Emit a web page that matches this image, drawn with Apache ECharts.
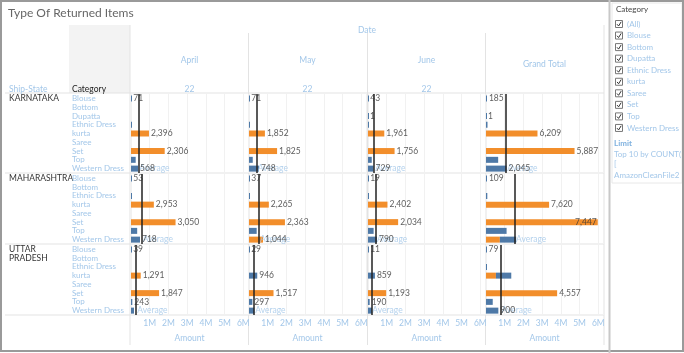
<!DOCTYPE html>
<html>
<head>
<meta charset="utf-8">
<script src="https://cdn.jsdelivr.net/npm/echarts@6/dist/echarts.min.js"></script>
<style>
  html, body { margin: 0; padding: 0; background: #fff; }
  #chart { width: 684px; height: 353px; }
</style>
</head>
<body>
<div id="chart"></div>
<script>
// columns of the table
var months = ["April", "May", "June", "Grand Total"];
var yearLabels = ["22", "22", "22", ""];
var states = ["KARNATAKA", "MAHARASHTRA", "UTTAR PRADESH"];
var stateLines = [["KARNATAKA"], ["MAHARASHTRA"], ["UTTAR", "PRADESH"]];
var amountTicks = ["1M", "2M", "3M", "4M", "5M", "6M"];

// categories (rows) per state
var catsKA = ["Blouse", "Bottom", "Dupatta", "Ethnic Dress", "kurta", "Saree", "Set", "Top", "Western Dress"];
var catsMH = ["Blouse", "Bottom", "Ethnic Dress", "kurta", "Saree", "Set", "Top", "Western Dress"];
var catsUP = ["Blouse", "Bottom", "Ethnic Dress", "kurta", "Saree", "Set", "Top", "Western Dress"];

// amount in millions, one list per column (April, May, June, Grand Total)
var orangeKA = [
  [null, null, null, null, 0.96, null, 1.80, null, null],
  [null, null, null, null, 0.85, null, 1.50, null, null],
  [null, null, null, null, 0.87, null, 1.42, null, null],
  [null, null, null, null, 2.75, null, 4.73, null, null]
];
var blueKA = [
  [0.02, null, null, 0.04, null, null, null, 0.25, 0.38],
  [0.02, null, null, 0.02, null, null, null, 0.20, 0.53],
  [0.02, null, 0.005, 0.03, null, null, null, 0.20, 0.30],
  [0.05, null, 0.005, 0.08, null, null, null, 0.65, 1.10]
];
var countsKA = [
  [71, null, null, null, 2396, null, 2306, null, 568],
  [71, null, null, null, 1852, null, 1825, null, 748],
  [43, null, 1, null, 1961, null, 1756, null, 729],
  [185, null, 1, null, 6209, null, 5887, null, 2045]
];
var avgKA = [0.39, 0.41, 0.33, 1.08];

var orangeMH = [
  [null, null, null, 1.22, null, 2.38, null, null],
  [null, null, null, 1.06, null, 1.92, null, 0.75],
  [null, null, null, 1.04, null, 1.61, null, null],
  [null, null, null, 3.37, null, 5.97, null, 0.74]
];
var blueMH = [
  [0.02, null, 0.03, null, null, null, 0.33, 0.48],
  [0.02, null, 0.02, null, null, null, 0.41, null],
  [0.01, null, 0.02, null, null, null, 0.30, 0.48],
  [0.05, null, 0.07, null, null, null, 1.10, 0.87]
];
var countsMH = [
  [53, null, null, 2953, null, 3050, null, 718],
  [37, null, null, 2265, null, 2363, null, 1044],
  [19, null, null, 2402, null, 2034, null, 790],
  [109, null, null, 7620, null, 7447, null, null]
];
var avgMH = [0.57, 0.53, 0.43, 1.55];

var orangeUP = [
  [null, null, null, 0.52, null, 1.50, null, null],
  [null, null, null, null, null, 1.31, null, null],
  [null, null, null, null, null, 0.97, null, null],
  [null, null, null, 0.53, null, 3.80, null, null]
];
var blueUP = [
  [0.01, null, null, null, null, null, 0.07, 0.16],
  [0.01, null, null, 0.44, null, null, 0.18, 0.28],
  [0.01, null, null, 0.37, null, null, 0.09, 0.21],
  [0.03, null, 0.03, 0.82, null, null, 0.36, 0.66]
];
var countsUP = [
  [39, null, null, 1291, null, 1847, 243, null],
  [29, null, null, 946, null, 1517, 297, null],
  [11, null, null, 859, null, 1193, 190, null],
  [79, null, null, null, null, 4557, null, 900]
];
var avgUP = [0.28, 0.28, 0.18, 0.78];

// filter card
var filterItems = ["(All)", "Blouse", "Bottom", "Dupatta", "Ethnic Dress", "kurta", "Saree", "Set", "Top", "Western Dress"];
var limitLines = ["Top 10 by COUNT(", "[", "AmazonCleanFile2"];

var stateCats = [catsKA, catsMH, catsUP];
var stateOrange = [orangeKA, orangeMH, orangeUP];
var stateBlue = [blueKA, blueMH, blueUP];
var stateCounts = [countsKA, countsMH, countsUP];
var stateAvg = [avgKA, avgMH, avgUP];

var ORANGE = "#f28e2b", BLUE = "#4e79a7";
var LIGHT = "#a3c7e9", DARK = "#333", GRID = "#e3e3e3";
var FONT = "Lato";
var colLeft = [131, 249, 368, 486], colW = 117;
var rowTop = [94, 174, 245], rowH = [79, 70, 70];

var chart = echarts.init(document.getElementById("chart"));
var grids = [], xAxes = [], yAxes = [], series = [];

for (var s = 0; s < 3; s++) {
  for (var m = 0; m < 4; m++) {
    var gi = s * 4 + m;
    var cats = stateCats[s];
    grids.push({ left: colLeft[m], top: rowTop[s], width: colW, height: rowH[s] });
    xAxes.push({
      gridIndex: gi, type: "value", min: 0, max: 6.25, interval: 1,
      axisLine: { show: false }, axisTick: { show: false },
      splitLine: { show: true, lineStyle: { color: "#f1f1f1", width: 1 } },
      axisLabel: {
        show: s === 2, color: LIGHT, fontSize: 8.5, fontFamily: FONT, margin: 4,
        showMinLabel: false, showMaxLabel: false,
        formatter: function (v) { return amountTicks[Math.round(v) - 1] || ""; }
      },
      name: s === 2 ? "Amount" : "", nameLocation: "middle", nameGap: 19,
      nameTextStyle: { color: LIGHT, fontSize: 8.5, fontFamily: FONT }
    });
    yAxes.push({
      gridIndex: gi, type: "category", inverse: true, data: cats,
      axisLine: { show: false }, axisTick: { show: false }, splitLine: { show: false },
      axisLabel: { show: m === 0, interval: 0, align: "left", margin: 59, color: LIGHT, fontSize: 8, fontFamily: FONT }
    });

    var oData = stateOrange[s][m], bData = stateBlue[s][m], cData = stateCounts[s][m];
    series.push({
      type: "bar", xAxisIndex: gi, yAxisIndex: gi, stack: "st" + gi, barWidth: 6,
      itemStyle: { color: ORANGE }, data: oData, silent: true
    });
    series.push({
      type: "bar", xAxisIndex: gi, yAxisIndex: gi, stack: "st" + gi, barWidth: 6, barMinHeight: 1,
      itemStyle: { color: BLUE }, data: bData, silent: true
    });

    // count labels at the end of each bar
    var lab = [];
    for (var i = 0; i < cats.length; i++) {
      if (cData[i] == null) continue;
      var tot = (oData[i] || 0) + (bData[i] || 0);
      var inside = tot > 5.2;
      lab.push({
        value: [tot, i],
        label: {
          show: true, position: inside ? "left" : "right", distance: inside ? 1 : 2,
          color: DARK, fontSize: 8.5, fontFamily: FONT,
          formatter: cData[i].toLocaleString("en-US")
        }
      });
    }
    series.push({
      type: "scatter", xAxisIndex: gi, yAxisIndex: gi, symbolSize: 0, silent: true, z: 5,
      data: lab
    });

    // average reference line and its label
    var avg = stateAvg[s][m];
    series.push({
      type: "scatter", xAxisIndex: gi, yAxisIndex: gi, symbolSize: 0, silent: true, z: 4,
      data: [[avg, cats.length - 1]],
      label: { show: true, position: "right", distance: 1, formatter: "Average", color: LIGHT, fontSize: 8.5, fontFamily: FONT },
      markLine: {
        silent: true, symbol: ["none", "none"], animation: false,
        label: { show: false },
        lineStyle: { color: "#222", width: 1.5, type: "solid" },
        data: [{ xAxis: avg }]
      }
    });
  }
}

// table frame, headers and the filter card
var g = [];
g.push({ type: "rect", shape: { x: 69, y: 25, width: 61, height: 68 }, style: { fill: "#f3f3f3" }, z: -10 });
[130, 604].forEach(function (x) {
  g.push({ type: "line", shape: { x1: x, y1: 25, x2: x, y2: 345 }, style: { stroke: GRID, lineWidth: 1 }, z: -5 });
});
[248.5, 367.5, 485.5].forEach(function (x) {
  g.push({ type: "line", shape: { x1: x, y1: 33, x2: x, y2: 345 }, style: { stroke: GRID, lineWidth: 1 }, z: -5 });
});
[93, 173, 244, 315].forEach(function (y) {
  g.push({ type: "line", shape: { x1: 5, y1: y, x2: 604, y2: y }, style: { stroke: GRID, lineWidth: 1 }, z: -5 });
});

g.push({ type: "text", left: 8, top: 7, style: { text: "Type Of Returned Items", fill: "#666", font: "12px " + FONT } });
g.push({ type: "text", x: 367, y: 30, style: { text: "Date", fill: LIGHT, font: "8.5px " + FONT, align: "center", verticalAlign: "middle" } });
for (var m2 = 0; m2 < 4; m2++) {
  var cx = colLeft[m2] + colW / 2;
  g.push({ type: "text", x: cx, y: m2 === 3 ? 64 : 60, style: { text: months[m2], fill: LIGHT, font: "8.5px " + FONT, align: "center", verticalAlign: "middle" } });
  if (yearLabels[m2]) {
    g.push({ type: "text", x: cx, y: 89, style: { text: yearLabels[m2], fill: LIGHT, font: "8.5px " + FONT, align: "center", verticalAlign: "middle" } });
  }
}
g.push({ type: "text", x: 9, y: 89, style: { text: "Ship-State", fill: LIGHT, font: "8.5px " + FONT, verticalAlign: "middle" } });
g.push({ type: "text", x: 72, y: 89, style: { text: "Category", fill: "#222", font: "8.5px " + FONT, verticalAlign: "middle" } });
for (var s2 = 0; s2 < 3; s2++) {
  var firstRow = rowTop[s2] + rowH[s2] / stateCats[s2].length / 2;
  stateLines[s2].forEach(function (t, k) {
    g.push({ type: "text", x: 9, y: firstRow + k * 9, style: { text: t, fill: DARK, font: "8.5px " + FONT, verticalAlign: "middle" } });
  });
}

// outer frame
g.push({ type: "rect", shape: { x: 1, y: 1, width: 682, height: 350 }, style: { fill: "none", stroke: "#9a9a9a", lineWidth: 2 }, z: 10 });
g.push({ type: "line", shape: { x1: 609.5, y1: 0, x2: 609.5, y2: 353 }, style: { stroke: "#c8c8c8", lineWidth: 2 }, z: 10 });

// filter card
g.push({ type: "rect", shape: { x: 612, y: 3, width: 70, height: 180 }, style: { fill: "#fff", stroke: "#e8e8e8", lineWidth: 1 } });
g.push({ type: "text", x: 616, y: 9, style: { text: "Category", fill: "#444", font: "8px " + FONT, verticalAlign: "middle" } });
filterItems.forEach(function (t, k) {
  var y = 24 + k * 11.55;
  g.push({ type: "rect", shape: { x: 615.5, y: y - 3.5, width: 7, height: 7 }, style: { fill: "#fff", stroke: "#777", lineWidth: 1 } });
  g.push({ type: "polyline", shape: { points: [[617, y + 0.2], [618.6, y + 2], [621.2, y - 2.2]] }, style: { stroke: "#333", lineWidth: 1, fill: "none" } });
  g.push({ type: "text", x: 627, y: y, style: { text: t, fill: LIGHT, font: "8px " + FONT, verticalAlign: "middle" } });
});
g.push({ type: "text", x: 614, y: 143, style: { text: "Limit", fill: "#7fb1df", font: "bold 8px " + FONT, verticalAlign: "middle" } });
limitLines.forEach(function (t, k) {
  g.push({ type: "text", x: 614, y: 154 + k * 10.5, style: { text: t, fill: LIGHT, font: "8px " + FONT, verticalAlign: "middle" } });
});

chart.setOption({
  animation: false,
  backgroundColor: "#fff",
  grid: grids,
  xAxis: xAxes,
  yAxis: yAxes,
  series: series,
  graphic: { elements: g }
});
</script>
</body>
</html>
